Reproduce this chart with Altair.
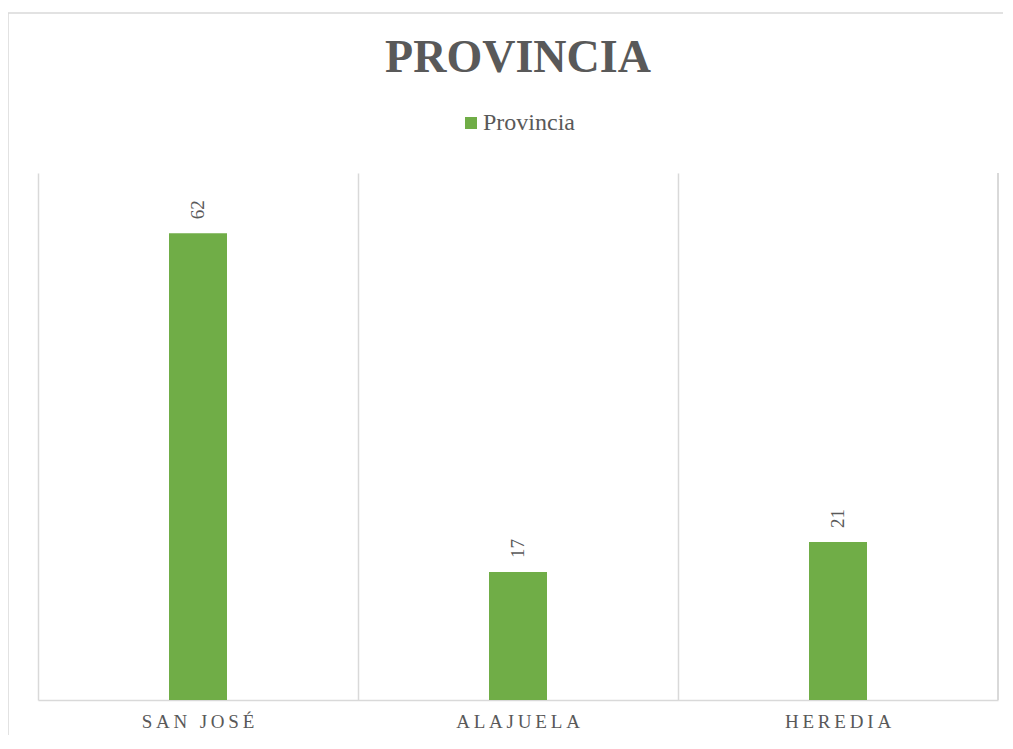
import altair as alt
import pandas as pd

provincias = ["San José", "Alajuela", "Heredia"]
valores = [62, 17, 21]
serie = "Provincia"
titulo = "PROVINCIA"

df = pd.DataFrame({
    "provincia": provincias,
    "valor": valores,
    "serie": [serie] * len(provincias),
})

FONT = "'Liberation Serif', 'Times New Roman', 'DejaVu Serif', serif"
GRAY = "#595959"
GRID = "#D9D9D9"
GREEN = "#70AD47"
W, H = 960, 527

base = alt.Chart(df)

x_enc = alt.X(
    "provincia:N",
    sort=provincias,
    scale=alt.Scale(paddingInner=0, paddingOuter=0),
    axis=alt.Axis(
        title=None,
        labelAngle=0,
        labelFont=FONT,
        labelFontSize=19,
        labelColor=GRAY,
        labelPadding=12,
        labelExpr="join(split(upper(datum.label), ''), '\u2009')",
        ticks=False,
        domainColor=GRID,
        domainWidth=1.5,
        grid=True,
        gridColor=GRID,
        gridWidth=1.5,
        bandPosition=0,
    ),
)
y_enc = alt.Y("valor:Q", scale=alt.Scale(domain=[0, 70]), axis=None)

bars = base.mark_bar(size=58).encode(
    x=x_enc,
    y=y_enc,
    color=alt.Color(
        "serie:N",
        scale=alt.Scale(domain=[serie], range=[GREEN]),
        legend=alt.Legend(
            title=None,
            orient="none",
            legendX=421,
            legendY=-62,
            symbolType="square",
            symbolSize=144,
            symbolStrokeWidth=0,
            labelFont=FONT,
            labelFontSize=24,
            labelColor=GRAY,
            labelOffset=0,
            padding=0,
        ),
    ),
)

labels = base.mark_text(
    angle=270, align="left", baseline="middle", dx=14,
    font=FONT, fontSize=19, color=GRAY,
).encode(x=alt.X("provincia:N", sort=provincias), y=y_enc, text="valor:Q")

right_grid = base.mark_rule(color=GRID, strokeWidth=1.5).encode(
    x=alt.value(W), y=alt.value(0), y2=alt.value(H)
)

frame = alt.Chart(pd.DataFrame({"k": [0]})).mark_rect(
    fillOpacity=0, stroke=GRID, strokeWidth=1.5
).encode(x=alt.value(-30), x2=alt.value(1000), y=alt.value(-160), y2=alt.value(620))

chart = alt.layer(frame, right_grid, bars, labels).properties(
    width=W,
    height=H,
    autosize=alt.AutoSizeParams(type="none"),
    padding={"left": 30, "top": 165, "right": 5, "bottom": 35},
    title=alt.TitleParams(
        titulo,
        anchor="middle",
        font=FONT,
        fontSize=46,
        fontWeight="bold",
        color=GRAY,
        frame="group",
        dy=74,
    ),
).configure(font=FONT).configure_view(stroke=None).configure_legend(
    labelFont=FONT
).configure_text(font=FONT)

chart.save("out.html", embed_options={"renderer": "svg", "actions": False})
